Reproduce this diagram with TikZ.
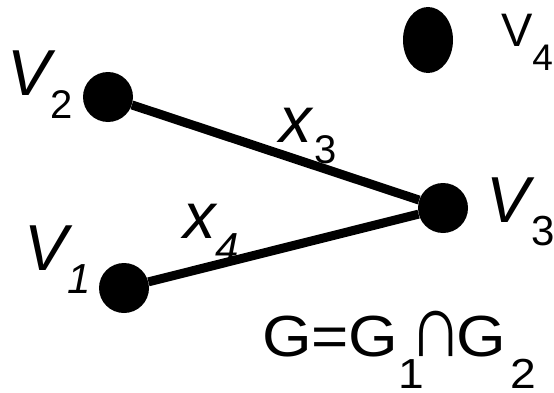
\documentclass[tikz,border=0pt]{standalone}
\usepackage{fontspec}
\setmainfont{Liberation Sans}
\usetikzlibrary{shapes.geometric}
\newcommand\fs[1]{\fontsize{#1}{#1}\selectfont}
\tikzset{
  dot/.style={circle, fill=black, minimum size=50pt, inner sep=0pt},
  oval/.style={ellipse, fill=black, minimum width=50pt, minimum height=66pt, inner sep=0pt},
  edge/.style={line width=9pt},
  lab/.style={anchor=base west, inner sep=0pt, outer sep=0pt},
}
\begin{document}
\begin{tikzpicture}[x=1pt,y=1pt]
\useasboundingbox (0,0) rectangle (554,392);
\node[dot] (v2) at (108,295) {};
\node[dot] (v1) at (124,104) {};
\node[dot] (v3) at (443,184) {};
\node[oval] (v4) at (428,352) {};
\draw[edge] (v2) -- (v3);
\draw[edge] (v1) -- (v3);
\node[lab] (l2) at (7,297) {\fs{65}\itshape V\kern0.6pt\raisebox{-23pt}{\fs{40}\upshape 2}};
\node[lab] (l1) at (24,122) {\fs{65}\itshape V\kern0.6pt\raisebox{-23pt}{\fs{42}1}};
\node[lab] (l3) at (486,170) {\fs{65}\itshape V\kern2.6pt\raisebox{-23pt}{\fs{42}\upshape 3}};
\node[lab] (l4) at (501,345) {\fs{47}V\raisebox{-23pt}{\fs{37}4}};
\node[lab] (lx3) at (279,250) {\fs{65}\itshape x\kern2.5pt\raisebox{-21pt}{\fs{40}\upshape 3}};
\node[lab] (lx4) at (183,154) {\fs{65}\itshape x\kern-0.5pt\raisebox{-24pt}{\fs{42}4}};
\node[lab] (g) at (262,36) {\scalebox{1.1}[1]{\fs{58}G=G\raisebox{-32pt}{\fs{42}1}\kern-13pt\scalebox{0.9}[1.2]{\fs{75}∩}\kern-6pt G\kern4pt\raisebox{-32pt}{\fs{42}2}}};
\end{tikzpicture}
\end{document}
